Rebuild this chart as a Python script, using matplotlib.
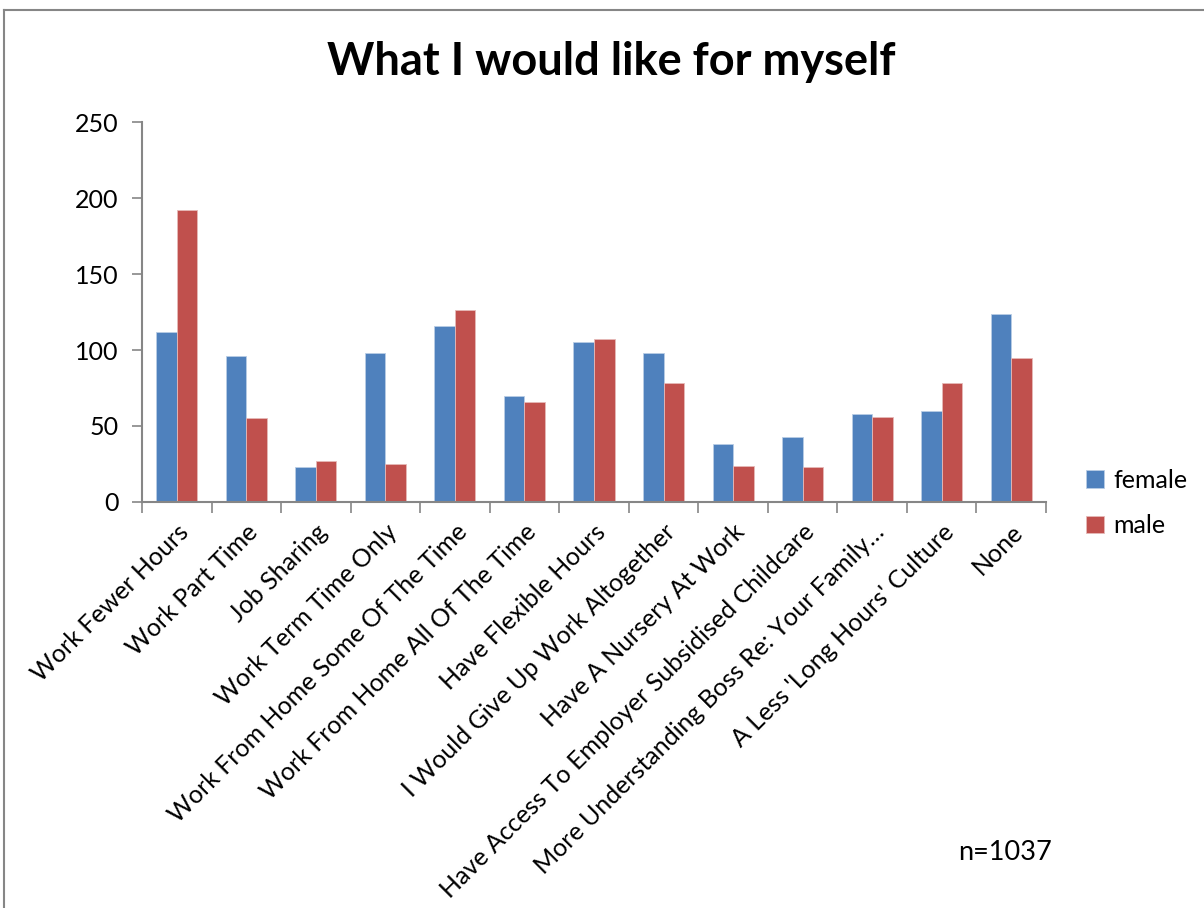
import numpy as np
import matplotlib
matplotlib.use("Agg")
import matplotlib.pyplot as plt
from matplotlib.lines import Line2D

plt.rcParams['font.family'] = ['Lato', 'DejaVu Sans']

categories = [
    "Work Fewer Hours",
    "Work Part Time",
    "Job Sharing",
    "Work Term Time Only",
    "Work From Home Some Of The Time",
    "Work From Home All Of The Time",
    "Have Flexible Hours",
    "I Would Give Up Work Altogether",
    "Have A Nursery At Work",
    "Have Access To Employer Subsidised Childcare",
    "More Understanding Boss Re: Your Family\u2026",
    "A Less 'Long Hours' Culture",
    "None",
]
female = [112, 96, 23, 98, 116, 70, 105, 98, 38, 43, 58, 60, 124]
male = [192, 55, 27, 25, 126, 66, 107, 78, 24, 23, 56, 78, 95]

blue = '#4F81BD'
red = '#C0504D'
grey = '#868686'

fig = plt.figure(figsize=(12.04, 9.08), dpi=100)
ax = fig.add_axes([142 / 1204, 1 - 502 / 908, 904 / 1204, 380 / 908])

x = np.arange(len(categories))
w = 0.295
ax.bar(x - w / 2, female, w, color=blue, edgecolor='#B9CDE5', linewidth=0.6, label='female')
ax.bar(x + w / 2, male, w, color=red, edgecolor='#E6B9B8', linewidth=0.6, label='male')

ax.set_xlim(-0.5, len(categories) - 0.5)
ax.set_ylim(0, 250)
ax.set_yticks([0, 50, 100, 150, 200, 250])
ax.tick_params(axis='y', labelsize=18, length=7, color=grey, width=1.2, pad=10)

# category ticks sit on the boundaries, labels at centres
ax.set_xticks(np.arange(len(categories) + 1) - 0.5)
ax.set_xticklabels([])
ax.tick_params(axis='x', which='major', length=8, color=grey, width=1.2)
ax.set_xticks(x, minor=True)
ax.set_xticklabels(categories, minor=True, rotation=45, ha='right',
                   rotation_mode='anchor', fontsize=18)
ax.tick_params(axis='x', which='minor', length=0, pad=13)

for s in ['top', 'right']:
    ax.spines[s].set_visible(False)
for s in ['left', 'bottom']:
    ax.spines[s].set_color(grey)
    ax.spines[s].set_linewidth(1.5)

fig.text(0.508, 1 - 62 / 908, 'What I would like for myself', ha='center', va='center',
         fontsize=32.5, fontweight='bold')

leg = fig.legend(loc='center left', bbox_to_anchor=(1086 / 1204, 1 - 503 / 908),
                 frameon=False, fontsize=18, handlelength=0.7, handleheight=0.7,
                 labelspacing=0.9, handletextpad=0.4, borderpad=0, borderaxespad=0)

fig.text(958 / 1204, 1 - 852 / 908, 'n=1037', ha='left', va='center', fontsize=19.5)

# outer chart border (cut off at right and bottom)
fig.add_artist(Line2D([3.5 / 1204, 3.5 / 1204], [0, 1 - 9.5 / 908], color=grey, lw=1.5))
fig.add_artist(Line2D([3.5 / 1204, 1], [1 - 9.5 / 908, 1 - 9.5 / 908], color=grey, lw=1.5))

fig.savefig('out.png', dpi=100)
